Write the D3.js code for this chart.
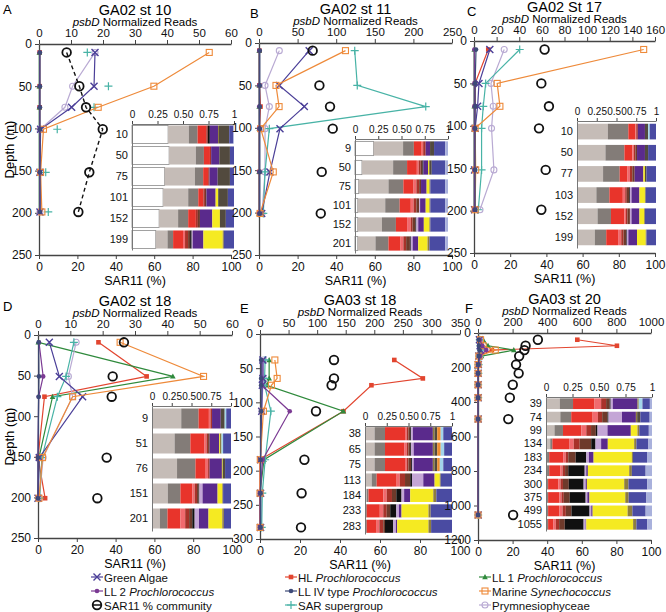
<!DOCTYPE html>
<html>
<head>
<meta charset="utf-8">
<script src="https://cdn.jsdelivr.net/npm/d3@7"></script>
<style>
  body { margin: 0; background: #fff; }
  svg { display: block; font-family: "Liberation Sans", Arial, sans-serif; }
</style>
</head>
<body>
<svg id="chart" width="666" height="612"></svg>
<script>
// series order used by every reads array below
const seriesKeys = ['algae', 'll2', 'hl', 'll4', 'sar', 'll1', 'syn', 'prym']
const seriesLabels = {
  algae: ['Green Algae', ''],
  ll2: ['LL 2 ', 'Prochlorococcus'],
  hl: ['HL ', 'Prochlorococcus'],
  ll4: ['LL IV type ', 'Prochlorococcus'],
  sar: ['SAR supergroup', ''],
  ll1: ['LL 1 ', 'Prochlorococcus'],
  syn: ['Marine ', 'Synechococcus'],
  prym: ['Prymnesiophyceae', ''],
  sar11: ['SAR11 % community', ''],
}
// taxa in the stacked bars (left to right)
const taxa = ['white', 'lightgrey', 'grey', 'red', 'pink', 'darkred', 'brown', 'black',
  'lavender', 'purple', 'yellow', 'olive', 'darkbrown', 'orange', 'lightblue', 'blue', 'paleblue']

// ---- A: GA02 st 10
const depthA = [10, 50, 75, 101, 152, 199]
const readsA = [
  [17.5, 17.2, 10.2, 0.5, 0.3, 0.3],
  [0.2, 0.2, 0.2, 0.2, 0.2, 0.2],
  [0.2, 0.2, 0.2, 0.2, 0.2, 0.2],
  [0.3, 0.3, 0.3, 0.3, 0.3, 0.3],
  [15.1, 21.7, 17.2, 5.7, 2.1, 2.9],
  [0.1, 0.1, 0.1, 0.1, 0.1, 0.1],
  [53.2, 35.9, 18.5, 1.4, 0.5, 0.9],
  [17.5, 10.5, 8.1, 0.4, 0.5, 0.3],
]
const sar11A = [14.4, 21, 24.5, 33.2, 26.2, 20.5]
const compA = [
  [.354, .203, .086, .085, 0, .015, 0, .02, 0, .08, 0, .01, .10, 0, 0, .04, .007],
  [.364, .262, .079, .059, 0, .012, 0, 0, 0, .08, 0, 0, .104, 0, 0, .04, 0],
  [.32, .297, .081, .049, 0, .013, 0, 0, 0, .08, 0, 0, .12, 0, 0, .04, 0],
  [.305, .246, .099, .05, 0, .015, .015, 0, 0, .09, .025, 0, .095, 0, 0, .06, 0],
  [.266, .186, .099, .075, 0, .02, .02, 0, 0, .121, .075, 0, .058, 0, 0, .08, 0],
  [.233, .115, .055, .097, .02, .03, .02, .015, .01, .105, .19, .01, 0, 0, 0, .10, 0],
]

// ---- B: GA02 st 11
const depthB = [9, 50, 75, 101, 152, 201]
const readsB = [
  [65, 26.3, 58.7, 27.2, 14.2, 3.5],
  [0.3, 0.3, 0.3, 0.3, 0.3, 0.3],
  [0.5, 0.5, 2, 0.5, 0.3, 0.3],
  [1, 1, 1, 1, 1, 1],
  [124, 127.3, 216, 13.4, 7.8, 5.6],
  [0.2, 0.2, 0.2, 0.2, 0.2, 0.2],
  [112, 22, 26, 2.2, 18.5, 1.3],
  [26.3, 7.8, 13.4, 7.8, 7.8, 3.9],
]
const sar11B = [27.8, 31.3, 36.8, 38.2, 32.5, 32]
const compB = [
  [.20, .317, .116, .084, .016, .027, 0, 0, 0, .047, 0, 0, .043, 0, 0, .12, .03],
  [.075, .335, .15, .105, .02, .02, .02, .01, 0, .05, .01, .01, .02, 0, 0, .145, .03],
  [.04, .32, .16, .11, .03, .03, .02, 0, 0, .06, .03, .01, 0, 0, 0, .16, .03],
  [.03, .295, .155, .12, .03, .03, .03, 0, .01, .06, .04, .01, 0, 0, 0, .16, .03],
  [.03, .26, .15, .12, .04, .02, .03, .01, .02, .06, .06, .01, 0, 0, 0, .16, .03],
  [.03, .19, .14, .13, .03, .03, .04, .01, .02, .06, .10, .02, 0, 0, 0, .17, .03],
]

// ---- C: GA02 St 17
const depthC = [10, 50, 77, 103, 152, 199]
const readsC = [
  [14, 4.4, 3.2, 1, 0.5, 0.5],
  [0.3, 0.3, 0.3, 0.3, 0.3, 0.3],
  [12.6, 1, 1, 0.5, 0.5, 0.5],
  [1.8, 1, 1, 1, 1, 1],
  [40.4, 10.3, 8.2, 6.7, 6.7, 3.8],
  [0.2, 0.2, 0.2, 0.2, 0.2, 0.2],
  [150, 20.5, 22.9, 1, 1.5, 1],
  [26.7, 15, 17, 15.5, 17.6, 5.3],
]
const sar11C = [39, 37.2, 41.4, 35.9, 39.6, 37.2]
const compC = [
  [0, .39, .26, .09, .01, .02, 0, 0, 0, .09, 0, 0, .04, 0, .02, .08, 0],
  [0, .36, .24, .10, .02, .02, .02, 0, 0, .10, 0, 0, .04, 0, 0, .10, 0],
  [0, .33, .21, .10, .03, .03, .03, 0, 0, .11, .02, 0, .02, 0, 0, .12, 0],
  [0, .245, .165, .17, .03, .02, .03, .01, .02, .10, .07, .01, 0, 0, 0, .13, 0],
  [0, .26, .17, .17, .02, .02, .03, 0, .02, .10, .06, .01, 0, 0, 0, .14, 0],
  [0, .225, .145, .15, .04, .03, .03, .01, .02, .11, .11, .01, 0, 0, 0, .12, 0],
]

// ---- D: GA02 st 18
const depthD = [9, 51, 76, 151, 201]
const readsD = [
  [3.5, 6.6, 13.8, 0.4, 0],
  [0.3, 1.6, 0.2, 0, 0],
  [18.7, 33.6, 2, 0, 2.2],
  [0.2, 0.3, 0.2, 0, 0],
  [11.1, 8.7, 6, 1.2, 0.5],
  [0.1, 41.7, 4.5, 0.3, 0],
  [25.4, 51.2, 10.7, 1.4, 0.3],
  [11.8, 9.4, 10.7, 1.6, 0.4],
]
const sar11D = [44.3, 38.5, 38, 35.4, 30.6]
const compD = [
  [0, .37, .22, .13, .02, .02, 0, 0, 0, .11, 0, 0, .05, 0, .02, .06, 0],
  [0, .286, .20, .174, .03, .02, .02, 0, 0, .12, .01, .02, 0, 0, .02, .10, 0],
  [0, .317, .233, .13, .03, .02, 0, 0, 0, .155, .01, 0, .03, 0, 0, .075, 0],
  [0, .20, .16, .15, .03, .03, .02, .01, .04, .19, .06, .01, 0, 0, 0, .10, 0],
  [0, .10, .096, .164, .06, .05, .04, .03, .055, .12, .175, .02, 0, 0, 0, .09, 0],
]

// ---- E: GA03 st 18
const depthE = [38, 65, 75, 113, 184, 233, 283]
const readsE = [
  [5, 5, 4, 3, 1, 1, 1],
  [3, 3, 3, 52, 4.7, 0, 0],
  [235, 285, 195, 146, 0, 0, 0],
  [2, 2, 2, 2, 1, 1, 1],
  [9, 8, 8, 19, 9, 4, 3],
  [16, 16, 12, 146, 7, 0, 0],
  [26, 30, 20, 6, 0.5, 0, 0],
  [6, 6, 5, 3, 1, 1, 1],
]
const sar11E = [37, 37, 35.8, 28, 22.2, 20.8, 20.5]
const compE = [
  [0, .11, .12, .23, .02, .02, .02, .01, .02, .23, 0, .02, .03, .04, .03, .10, 0],
  [0, .11, .12, .22, .03, .02, .02, .01, .03, .22, 0, .02, .03, .04, .04, .09, 0],
  [0, .11, .12, .23, .02, .02, .03, .01, .02, .22, 0, .02, .03, .03, .04, .10, 0],
  [0, .077, .057, .23, .036, .06, .06, .02, .13, .13, .06, .01, 0, 0, 0, .13, 0],
  [0, .02, .02, .17, .04, .06, .05, .06, .03, .07, .265, .035, 0, 0, 0, .18, 0],
  [0, .01, .01, .15, .04, .04, .04, .07, .03, .03, .31, .025, 0, 0, 0, .245, 0],
  [0, .01, .01, .114, .031, .045, .02, .095, .03, .015, .36, .03, 0, 0, 0, .24, 0],
]

// ---- F: GA03 st 20
const depthF = [39, 74, 99, 134, 183, 234, 300, 375, 499, 1055]
const readsF = [
  [8, 12, 15, 5, 2, 1, 1, 1, 1, 1],
  [10, 25, 48, 12, 2, 0, 0, 0, 0, 0],
  [574, 803, 80, 5, 0, 0, 0, 0, 0, 0],
  [3, 5, 8, 5, 2, 1, 1, 1, 1, 1],
  [10, 15, 20, 8, 3, 2, 1, 1, 1, 1],
  [30, 58, 207, 20, 2, 0, 0, 0, 0, 0],
  [15, 30, 100, 5, 0, 0, 0, 0, 0, 0],
  [12, 15, 20, 10, 4, 2, 1, 1, 1, 1],
]
const sar11F = [34.6, 27.5, 26.8, 23.8, 22, 23.5, 20.1, 18.4, 17.5, 20.3]
const compF = [
  [0, .13, .125, .203, .062, .047, .033, .01, .02, .233, 0, .012, 0, 0, .035, .07, .02],
  [0, .135, .103, .202, .05, .04, .05, .01, .127, .131, 0, .012, .03, 0, 0, .088, .022],
  [0, .08, .08, .173, .047, .045, .045, .016, .094, .22, .063, .017, 0, 0, 0, .09, .03],
  [0, .04, .02, .158, .044, .056, .109, .04, .053, .063, .249, .021, 0, 0, 0, .113, .034],
  [0, .01, .02, .132, .025, .023, .07, .10, .025, .044, .361, .01, 0, 0, 0, .133, .047],
  [0, .01, .02, .107, .019, .024, .03, .155, .015, .015, .39, .025, 0, 0, 0, .13, .06],
  [0, .01, .01, .095, .022, .023, .055, .14, .019, .012, .352, .04, 0, 0, 0, .178, .044],
  [0, .01, .01, .105, .021, .022, .056, .15, .016, .02, .338, .032, 0, 0, 0, .167, .053],
  [0, .01, .01, .105, .031, .031, .053, .171, .016, .013, .33, .045, 0, 0, 0, .125, .06],
  [0, .01, .01, .048, .025, .031, .053, .178, .019, .006, .442, .031, 0, 0, 0, .103, .044],
]

const data = {
  A: { depth: depthA, reads: readsA, sar11: sar11A, comp: compA },
  B: { depth: depthB, reads: readsB, sar11: sar11B, comp: compB },
  C: { depth: depthC, reads: readsC, sar11: sar11C, comp: compC },
  D: { depth: depthD, reads: readsD, sar11: sar11D, comp: compD },
  E: { depth: depthE, reads: readsE, sar11: sar11E, comp: compE },
  F: { depth: depthF, reads: readsF, sar11: sar11F, comp: compF },
}

// ---- styling / layout
const seriesColor = {
  algae: '#4b3f98', ll2: '#7b3a93', hl: '#e2452f', ll4: '#3d4a78',
  sar: '#48b3a6', ll1: '#2f8a3c', syn: '#ee8a3a', prym: '#b9aad3', sar11: '#111',
}
const seriesMarker = {
  algae: 'x', ll2: 'dot', hl: 'sq', ll4: 'dot', sar: 'plus', ll1: 'tri', syn: 'osq', prym: 'ocirc',
}
// near-zero dark dots end up on top, as in the figure
const drawOrder = ['hl', 'll1', 'prym', 'sar', 'algae', 'syn', 'll2', 'll4']
const taxaColor = {
  white: '#ffffff', lightgrey: '#c5bcb7', grey: '#837c78', red: '#e8342b', pink: '#f06a6e',
  darkred: '#a8322a', brown: '#6e3a2b', black: '#101010', lavender: '#c4a6d6', purple: '#5a2a8c',
  yellow: '#f5ea22', olive: '#8e7d3f', darkbrown: '#524a3e', orange: '#ef8c2e',
  lightblue: '#a3d5ea', blue: '#4a4ba2', paleblue: '#a9b1dc',
}

const layout = [
  { id: 'A', title: 'GA02 st 10', x: [39, 231], y: [44, 255], top: [60, 10], depth: [250, 50],
    letter: [3, 14], ylabel: true, dashed: true, noLine: ['sar'],
    inset: { x: [132, 234], y: [124, 250], pad: 0.14 } },
  { id: 'B', title: 'GA02 st 11', x: [259, 452], y: [43, 255], top: [250, 50], depth: [250, 50],
    letter: [250, 18], inset: { x: [355, 448], y: [139, 253], pad: 0.25 } },
  { id: 'C', title: 'GA02 St 17', x: [474, 655], y: [41, 253], top: [160, 20], depth: [250, 50],
    letter: [467, 16], inset: { x: [577, 656], y: [121, 248], pad: 0.26 } },
  { id: 'D', title: 'GA02 st 18', x: [38, 232], y: [335, 538], top: [60, 10], depth: [250, 50],
    letter: [3, 311], ylabel: true, inset: { x: [152, 231], y: [406, 531], pad: 0.2 } },
  { id: 'E', title: 'GA03 st 18', x: [260, 460], y: [334, 539], top: [350, 50], depth: [300, 50],
    letter: [240, 313], inset: { x: [365, 452], y: [426, 534], pad: 0.15 } },
  { id: 'F', title: 'GA03 st 20', x: [478, 651], y: [333, 540], top: [1000, 200], depth: [1200, 200],
    letter: [465, 313], inset: { x: [546, 652], y: [397, 531], pad: 0.2 } },
]

const svg = d3.select('#chart')

function drawMarker(g, type, color) {
  if (type === 'x') {
    g.append('path').attr('d', 'M-3.5,-3.5L3.5,3.5M-3.5,3.5L3.5,-3.5')
      .attr('stroke', color).attr('stroke-width', 1.4).attr('fill', 'none')
  } else if (type === 'plus') {
    g.append('path').attr('d', 'M-4,0H4M0,-4V4')
      .attr('stroke', color).attr('stroke-width', 1.2).attr('fill', 'none')
  } else if (type === 'dot') {
    g.append('circle').attr('r', 2.3).attr('fill', color)
  } else if (type === 'sq') {
    g.append('rect').attr('x', -2.3).attr('y', -2.3).attr('width', 4.6).attr('height', 4.6).attr('fill', color)
  } else if (type === 'osq') {
    g.append('rect').attr('x', -3).attr('y', -3).attr('width', 6).attr('height', 6)
      .attr('fill', 'none').attr('stroke', color).attr('stroke-width', 1.1)
  } else if (type === 'tri') {
    g.append('path').attr('d', 'M0,-3L2.8,2.2H-2.8Z').attr('fill', color)
  } else if (type === 'ocirc') {
    g.append('circle').attr('r', 3).attr('fill', 'none').attr('stroke', color).attr('stroke-width', 1.1)
  } else if (type === 'sar11') {
    g.append('circle').attr('r', 4.3).attr('fill', 'none').attr('stroke', color).attr('stroke-width', 1.8)
  }
}

function styleAxis(g, size) {
  g.selectAll('.domain').attr('stroke', '#444').attr('stroke-width', 1.3)
  g.selectAll('.tick line').attr('stroke', '#444')
  g.selectAll('text').attr('fill', '#111').style('font-size', size + 'px')
}

layout.forEach((p) => {
  const d = data[p.id]
  const g = svg.append('g')

  const xTop = d3.scaleLinear().domain([0, p.top[0]]).range(p.x)
  const xBot = d3.scaleLinear().domain([0, 100]).range(p.x)
  const y = d3.scaleLinear().domain([0, p.depth[0]]).range(p.y)

  // axes
  g.append('g').attr('transform', `translate(0,${p.y[0]})`)
    .call(d3.axisTop(xTop).tickValues(d3.range(0, p.top[0] + 1, p.top[1]))
      .tickFormat(d3.format('d')).tickSize(4).tickSizeOuter(0))
    .call((a) => styleAxis(a, 11.5))
  g.append('g').attr('transform', `translate(0,${p.y[1]})`)
    .call(d3.axisBottom(xBot).tickValues(d3.range(0, 101, 20)).tickSize(4).tickSizeOuter(0))
    .call((a) => styleAxis(a, 12))
  g.append('g').attr('transform', `translate(${p.x[0]},0)`)
    .call(d3.axisLeft(y).tickValues(d3.range(0, p.depth[0] + 1, p.depth[1]))
      .tickFormat(d3.format('d')).tickSize(4).tickSizeOuter(0))
    .call((a) => styleAxis(a, 12))

  // titles
  const cx = (p.x[0] + p.x[1]) / 2
  g.append('text').attr('x', cx).attr('y', p.y[0] - 29).attr('text-anchor', 'middle')
    .style('font-size', '14.5px').text(p.title)
  const sub = g.append('text').attr('x', cx).attr('y', p.y[0] - 18).attr('text-anchor', 'middle')
    .style('font-size', '11.5px')
  sub.append('tspan').style('font-style', 'italic').text('psbD')
  sub.append('tspan').text(' Normalized Reads')
  g.append('text').attr('x', cx).attr('y', p.y[1] + 30).attr('text-anchor', 'middle')
    .style('font-size', '12.5px').text('SAR11 (%)')
  g.append('text').attr('x', p.letter[0]).attr('y', p.letter[1]).style('font-size', '13px').text(p.id)
  if (p.ylabel) {
    g.append('text').attr('transform', `translate(14,${(p.y[0] + p.y[1]) / 2}) rotate(-90)`)
      .attr('text-anchor', 'middle').style('font-size', '13px').text('Depth (m)')
  }

  // psbD series
  const lineFn = d3.line().x((v) => xTop(v)).y((v, i) => y(d.depth[i]))
  drawOrder.forEach((key) => {
    const vals = d.reads[seriesKeys.indexOf(key)]
    const color = seriesColor[key]
    if (!(p.noLine || []).includes(key)) {
      g.append('path').datum(vals).attr('d', lineFn)
        .attr('fill', 'none').attr('stroke', color).attr('stroke-width', 1.2)
    }
    vals.forEach((v, i) => {
      const m = g.append('g').attr('transform', `translate(${xTop(v)},${y(d.depth[i])})`)
      drawMarker(m, seriesMarker[key], color)
    })
  })

  // SAR11 % community
  if (p.dashed) {
    g.append('path').datum(d.sar11)
      .attr('d', d3.line().x((v) => xBot(v)).y((v, i) => y(d.depth[i])))
      .attr('fill', 'none').attr('stroke', '#111').attr('stroke-width', 1.4).attr('stroke-dasharray', '4,3')
  }
  d.sar11.forEach((v, i) => {
    const m = g.append('g').attr('transform', `translate(${xBot(v)},${y(d.depth[i])})`)
    drawMarker(m, 'sar11', '#111')
  })

  // inset stacked bars
  const ins = p.inset
  const ix = d3.scaleLinear().domain([0, 1]).range(ins.x)
  const iy = d3.scaleBand().domain(d.depth.map(String)).range(ins.y).paddingInner(ins.pad).paddingOuter(ins.pad / 2)
  const rows = d.comp.map((r) => Object.fromEntries(taxa.map((t, k) => [t, r[k]])))
  const stacked = d3.stack().keys(taxa)(rows)
  const ig = g.append('g')
  stacked.forEach((layer) => {
    ig.selectAll(null).data(layer).join('rect')
      .attr('x', (s) => ix(s[0]))
      .attr('y', (s, i) => iy(String(d.depth[i])))
      .attr('width', (s) => Math.max(0, ix(s[1]) - ix(s[0])))
      .attr('height', iy.bandwidth())
      .attr('fill', taxaColor[layer.key])
      .attr('stroke', layer.key === 'white' ? '#8a8a8a' : 'none')
      .attr('stroke-width', 0.8)
  })
  ig.append('g').attr('transform', `translate(0,${ins.y[0]})`)
    .call(d3.axisTop(ix).tickValues([0, 0.25, 0.5, 0.75, 1])
      .tickFormat((t) => (t === 0 || t === 1 ? d3.format('d')(t) : d3.format('.2f')(t)))
      .tickSize(3).tickSizeOuter(0))
    .call((a) => styleAxis(a, 10))
    .call((a) => a.select('.domain').attr('stroke', '#777').attr('stroke-width', 1))
  ig.append('g').attr('transform', `translate(${ins.x[0]},0)`)
    .call(d3.axisLeft(iy).tickSize(0).tickPadding(4))
    .call((a) => styleAxis(a, 11))
    .call((a) => a.select('.domain').attr('stroke', '#777').attr('stroke-width', 1))
})

// legend
const legendRows = [
  ['algae', 'hl', 'll1'],
  ['ll2', 'll4', 'syn'],
  ['sar11', 'sar', 'prym'],
]
const legendX = [97, 291, 485]
const legendY = [577, 591, 605]
legendRows.forEach((row, r) => {
  row.forEach((key, c) => {
    const g = svg.append('g').attr('transform', `translate(${legendX[c]},${legendY[r]})`)
    if (key === 'sar11') {
      drawMarker(g, 'sar11', '#111')
      g.append('line').attr('x1', -4).attr('x2', 4).attr('stroke', '#111').attr('stroke-width', 1.5)
    } else {
      g.append('line').attr('x1', -6).attr('x2', 6).attr('stroke', seriesColor[key]).attr('stroke-width', 1.2)
      drawMarker(g, seriesMarker[key], seriesColor[key])
    }
    const t = g.append('text').attr('x', 7).attr('y', 4.5).style('font-size', '11.5px').attr('fill', '#111')
    t.append('tspan').text(seriesLabels[key][0])
    if (seriesLabels[key][1]) t.append('tspan').style('font-style', 'italic').text(seriesLabels[key][1])
  })
})
</script>
</body>
</html>
